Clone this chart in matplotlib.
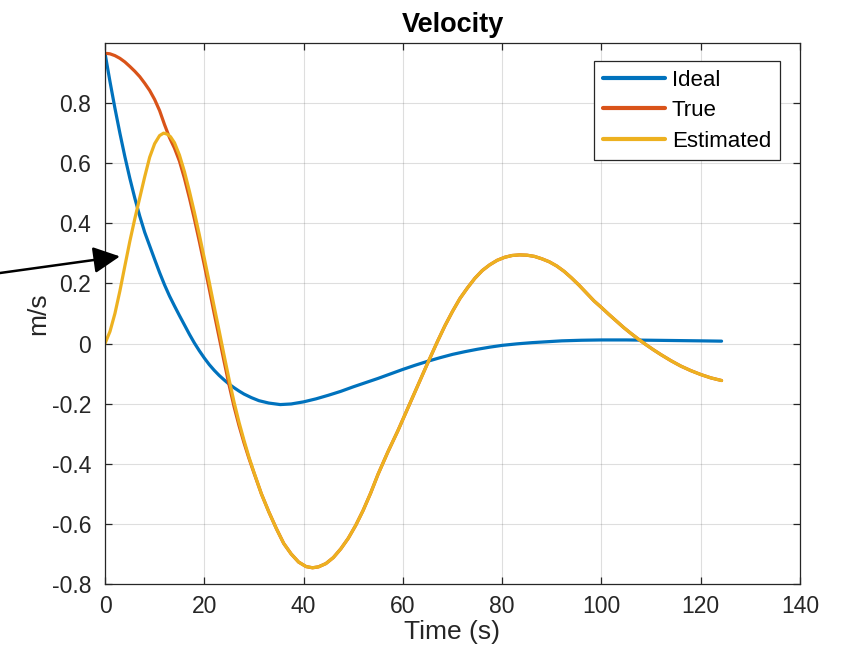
import matplotlib
matplotlib.use("Agg")
import matplotlib.pyplot as plt

plt.rcParams['font.family'] = ['Liberation Sans', 'DejaVu Sans']

# ---- data ----
ideal_t = [0, 1, 2, 3, 4, 5, 6, 7, 8, 9, 10, 11, 12, 13, 14, 15, 16, 17, 18, 19,
           20, 21, 22, 23, 24, 25, 26, 27, 28, 29.5, 31, 33, 35.3, 37.5, 40, 42.5,
           45, 47.5, 50, 52.5, 55, 57.5, 60, 62.5, 65, 67.5, 70, 72.5, 75, 77.5,
           80, 83, 86, 89, 92, 96, 100, 105, 110, 115, 120, 124.2]
ideal_v = [0.966, 0.872, 0.783, 0.700, 0.622, 0.550, 0.484, 0.424, 0.370, 0.325,
           0.280, 0.236, 0.195, 0.158, 0.125, 0.093, 0.062, 0.031, 0.002, -0.024,
           -0.048, -0.070, -0.089, -0.106, -0.121, -0.135, -0.147, -0.158, -0.168,
           -0.180, -0.190, -0.198, -0.203, -0.201, -0.194, -0.184, -0.172, -0.159,
           -0.144, -0.130, -0.116, -0.101, -0.086, -0.072, -0.059, -0.047, -0.036,
           -0.027, -0.019, -0.012, -0.006, -0.001, 0.003, 0.006, 0.009, 0.011,
           0.012, 0.012, 0.011, 0.010, 0.009, 0.008]

true_t = [0, 1, 2, 3, 4, 5, 6, 7, 8, 9, 10, 11, 12, 13, 14, 15, 16, 17, 18, 19, 20,
          21, 22, 23, 24, 25, 26, 27, 28, 29, 30, 31.5, 33, 34.5, 36, 37.5, 39,
          40.5, 41.8, 43, 44.5, 46, 47.5, 49, 50.5, 52, 53.5, 55, 57, 59, 61, 63,
          65, 67, 68.5, 70, 71.5, 73, 74.5, 76, 77.5, 79, 80.5, 82, 83.5, 85, 86.5,
          88, 89.5, 91, 92.5, 94, 95.5, 97, 98.5, 100, 101.5, 103, 104.5, 106,
          107.5, 109, 110.5, 112, 114, 116, 118, 120, 122, 124.2]
true_v = [0.966, 0.964, 0.958, 0.949, 0.937, 0.922, 0.906, 0.888, 0.866, 0.842,
          0.812, 0.775, 0.728, 0.685, 0.650, 0.607, 0.550, 0.485, 0.415, 0.340,
          0.262, 0.182, 0.100, 0.020, -0.060, -0.138, -0.210, -0.273, -0.330,
          -0.382, -0.430, -0.500, -0.560, -0.615, -0.665, -0.700, -0.727, -0.742,
          -0.746, -0.743, -0.732, -0.712, -0.683, -0.648, -0.605, -0.555, -0.498,
          -0.435, -0.360, -0.290, -0.215, -0.140, -0.065, 0.008, 0.060, 0.107,
          0.150, 0.185, 0.217, 0.243, 0.262, 0.277, 0.287, 0.293, 0.295, 0.294,
          0.290, 0.282, 0.272, 0.258, 0.240, 0.218, 0.194, 0.168, 0.142, 0.120,
          0.097, 0.075, 0.053, 0.033, 0.014, -0.004, -0.021, -0.037, -0.057,
          -0.075, -0.090, -0.103, -0.114, -0.123]

est_t = [0, 1, 2, 3, 4, 5, 6, 7, 8, 9, 10, 11, 11.8, 12.5, 13.2, 14, 15, 16, 17,
         18, 19, 20, 21, 22, 23, 24, 25, 26, 27, 28, 29, 30, 31.5, 33, 34.5, 36,
         37.5, 39, 40.5, 41.8, 43, 44.5, 46, 47.5, 49, 50.5, 52, 53.5, 55, 57, 59,
         61, 63, 65, 67, 68.5, 70, 71.5, 73, 74.5, 76, 77.5, 79, 80.5, 82, 83.5,
         85, 86.5, 88, 89.5, 91, 92.5, 94, 95.5, 97, 98.5, 100, 101.5, 103, 104.5,
         106, 107.5, 109, 110.5, 112, 114, 116, 118, 120, 122, 124.2]
est_v = [0.000, 0.040, 0.100, 0.175, 0.258, 0.340, 0.415, 0.485, 0.555, 0.620,
         0.665, 0.692, 0.700, 0.697, 0.688, 0.668, 0.627, 0.572, 0.507, 0.437,
         0.362, 0.284, 0.204, 0.122, 0.042, -0.040, -0.120, -0.195, -0.262,
         -0.322, -0.378, -0.428, -0.500, -0.560, -0.615, -0.665, -0.700, -0.727,
         -0.742, -0.746, -0.743, -0.732, -0.712, -0.683, -0.648, -0.605, -0.555,
         -0.498, -0.435, -0.360, -0.290, -0.215, -0.140, -0.065, 0.008, 0.060,
         0.107, 0.150, 0.185, 0.217, 0.243, 0.262, 0.277, 0.287, 0.293, 0.295,
         0.294, 0.290, 0.282, 0.272, 0.258, 0.240, 0.218, 0.194, 0.168, 0.142,
         0.120, 0.097, 0.075, 0.053, 0.033, 0.014, -0.004, -0.021, -0.037, -0.057,
         -0.075, -0.090, -0.103, -0.114, -0.123]

labels = ['Ideal', 'True', 'Estimated']
colors = ['#0072BD', '#D95319', '#EDB120']
x_ticks = [0, 20, 40, 60, 80, 100, 120, 140]
y_ticks = [-0.8, -0.6, -0.4, -0.2, 0, 0.2, 0.4, 0.6, 0.8]
y_ticklabels = ['-0.8', '-0.6', '-0.4', '-0.2', '0', '0.2', '0.4', '0.6', '0.8']

# ---- figure ----
W, H = 843, 664
fig = plt.figure(figsize=(W / 100, H / 100), dpi=100)
ax = fig.add_axes([105 / W, (H - 584) / H, 695 / W, 541 / H])

axc = '#262626'
for tt, vv, c, lab in zip([ideal_t, true_t, est_t], [ideal_v, true_v, est_v], colors, labels):
    ax.plot(tt, vv, color=c, lw=2.3, label=lab, solid_capstyle='round',
            solid_joinstyle='round')

ax.set_xlim(0, 140)
ax.set_ylim(-0.8, 1.0)
ax.set_xticks(x_ticks)
ax.set_xticklabels([str(v) for v in x_ticks])
ax.set_yticks(y_ticks)
ax.set_yticklabels(y_ticklabels)
ax.grid(True, color='#262626', alpha=0.15, lw=0.8)
ax.set_axisbelow(True)
for s in ax.spines.values():
    s.set_color(axc)
    s.set_linewidth(0.9)
ax.tick_params(direction='in', length=5, width=0.9, colors=axc, labelsize=16.5,
               top=True, right=True)
ax.tick_params(axis='x', pad=8)
ax.tick_params(axis='y', pad=10)

ax.set_title('Velocity', fontsize=19.5, fontweight='bold', color='black', pad=8)
ax.set_xlabel('Time (s)', fontsize=19, color=axc, labelpad=1.5)
ax.set_ylabel('m/s', fontsize=19, color=axc, labelpad=1)

leg = ax.legend(loc='upper right', bbox_to_anchor=(780 / W, (H - 61) / H),
                bbox_transform=fig.transFigure, fontsize=16, frameon=True,
                fancybox=False, handlelength=2.8, handletextpad=0.3,
                labelspacing=0.42, borderpad=0.4, borderaxespad=0)
leg.get_frame().set_edgecolor(axc)
leg.get_frame().set_linewidth(0.9)
leg.get_frame().set_alpha(1)
for line in leg.get_lines():
    line.set_linewidth(3)

# arrow pointing at the Estimated curve
ax.annotate('', xy=(3.0, 0.29), xycoords='data',
            xytext=(0.0, (H - 273) / H), textcoords='figure fraction',
            arrowprops=dict(arrowstyle='-|>,head_length=0.9,head_width=0.45',
                            mutation_scale=18, color='black', lw=1.8,
                            shrinkA=0, shrinkB=0),
            annotation_clip=False)

fig.savefig('out.png', dpi=100)
